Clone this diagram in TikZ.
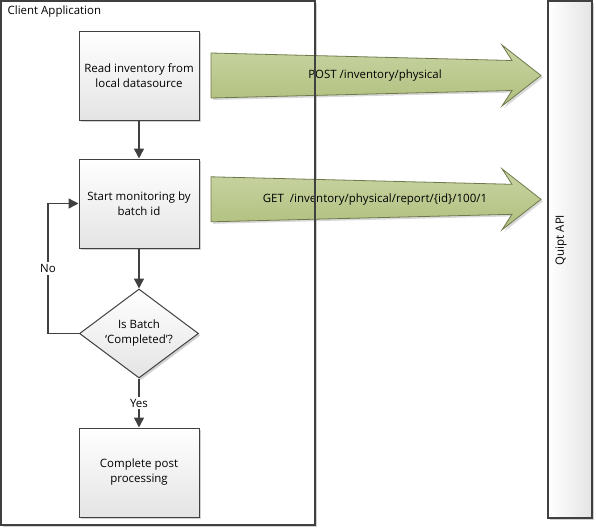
\documentclass[tikz,border=0pt]{standalone}
\usepackage{fontspec}
\setmainfont{Open Sans}
\usepackage{tikz}
\usetikzlibrary{arrows.meta,positioning,shapes.geometric,shadows}
\definecolor{ink}{HTML}{404040}
\definecolor{boxlo}{HTML}{E4E4E4}
\definecolor{greenhi}{HTML}{C9D4A2}
\definecolor{greenlo}{HTML}{B0BF7E}
\definecolor{greenedge}{HTML}{6E7A4B}
\newcommand{\lbl}{\fontsize{8.6}{11.25}\selectfont}
\tikzset{
  lane/.style={draw=ink, line width=0.8pt},
  stepbox/.style={draw=ink, line width=0.75pt, top color=white, bottom color=boxlo,
    minimum width=90pt, minimum height=66.75pt, inner sep=0pt, align=center, font=\lbl,
    drop shadow={shadow xshift=1.5pt, shadow yshift=-1.5pt, fill=black, opacity=0.18}},
  checkbox/.style={stepbox, diamond, minimum width=89.25pt, minimum height=66.75pt, aspect=1.34},
  flow/.style={draw=ink, line width=1.1pt, -{Triangle[length=7.5pt,width=7.5pt]}},
  callarrow/.style={draw=greenedge, line width=0.6pt, top color=greenhi, bottom color=greenlo,
    drop shadow={shadow xshift=1.5pt, shadow yshift=-1.5pt, fill=black, opacity=0.15}},
  lab/.style={text=black, font=\lbl},
}

\begin{document}
\begin{tikzpicture}[x=0.75pt, y=-0.75pt]
\useasboundingbox (0,0) rectangle (596,529);

% swim lanes
\fill[white, drop shadow={shadow xshift=1.5pt, shadow yshift=-1.5pt, fill=black, opacity=0.18}] (1,1) rectangle (315,525);
\node[lab, anchor=west] (client) at (3,12) {Client Application};
\node[draw=ink, line width=0.8pt, left color=white, right color=boxlo, minimum width=33pt,
  minimum height=387.75pt, inner sep=0pt,
  drop shadow={shadow xshift=1.5pt, shadow yshift=-1.5pt, fill=black, opacity=0.18}] (api) at (570,259.5) {};
\node[lab, rotate=90] (apilabel) at (561,240) {Quipt API};

% flow
\node[stepbox] (read) at (139,75.5) {Read inventory from\\local datasource};
\node[stepbox, below=28.5pt of read] (monitor) {Start monitoring by\\batch id};
\node[checkbox, below=30pt of monitor] (check) {Is Batch\\‘Completed’?};
\node[stepbox, below=36.75pt of check] (post) {Complete post\\processing};

\draw[flow] (read) -- (monitor);
\draw[flow] (monitor) -- (check);
\draw[flow] (check) -- node[lab, fill=white, inner sep=1.5pt] (yes) {Yes} (post);
\draw[flow] (check.west) -- ++(-31,0) |- node[lab, pos=0.25, fill=white, inner sep=1.5pt] (no) {No} (monitor.west);

% calls to the api
\foreach \cy/\call/\txt in {75.5/postcall/{POST /inventory/physical},
                           199.3/getcall/{GET\ \ /inventory/physical/report/\{id\}/100/1}}{
  \draw[callarrow] (211,\cy-22.5) -- (512,\cy-15) -- (502,\cy-30.5) -- (541,\cy)
    -- (502,\cy+30.5) -- (512,\cy+15) -- (211,\cy+22.5) -- cycle;
  \node[lab] (\call) at (375,\cy) {\txt};
}

\draw[lane] (1,1) rectangle (315,525);
\end{tikzpicture}
\end{document}
